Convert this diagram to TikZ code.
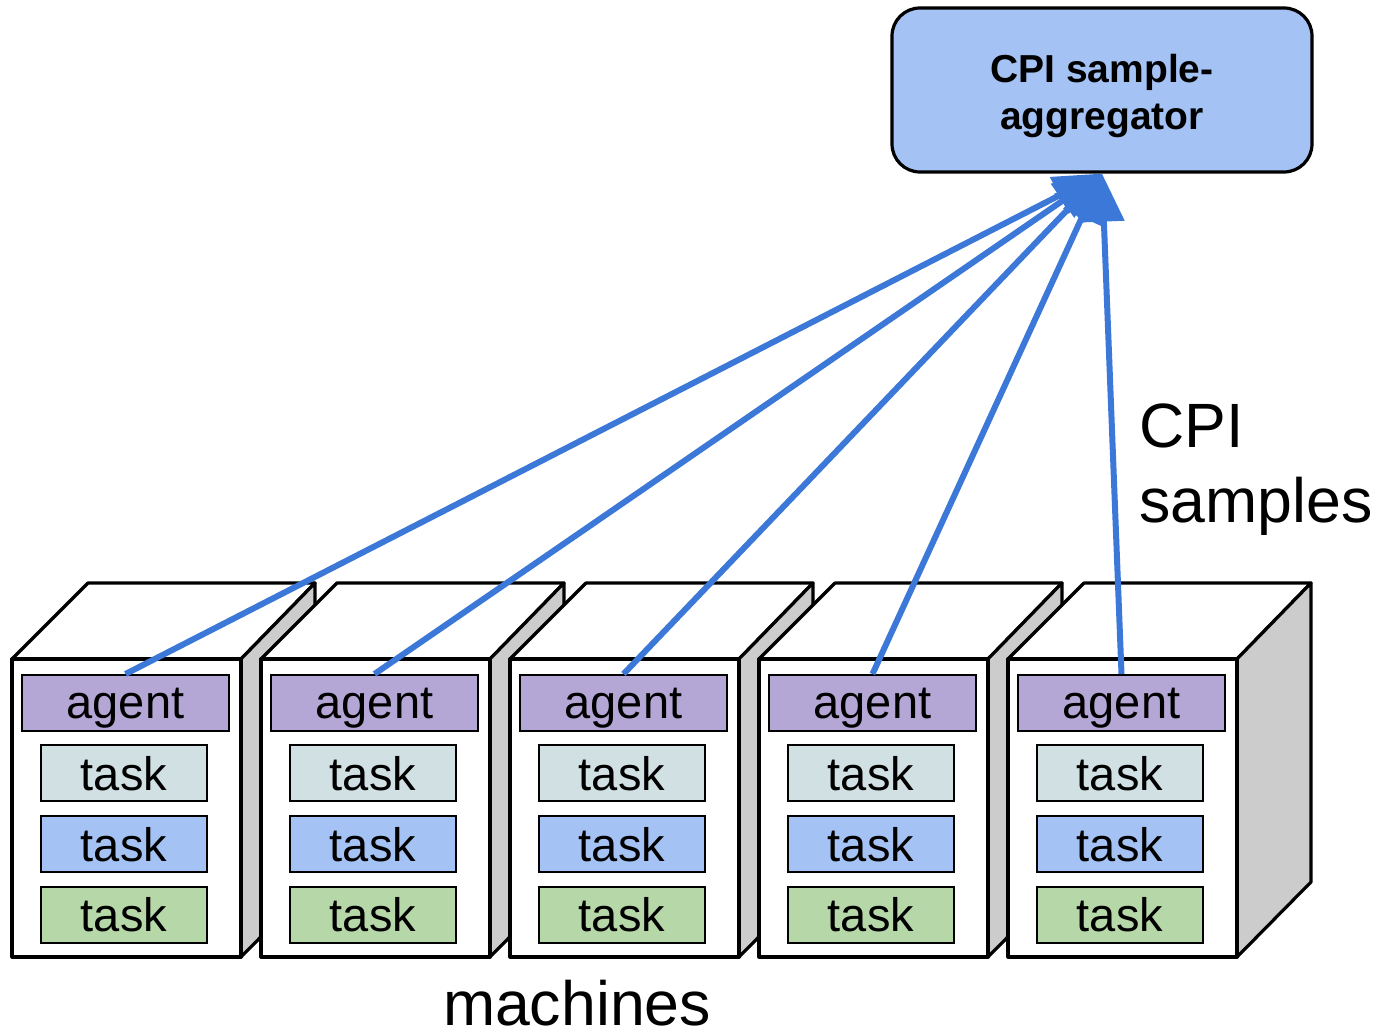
\documentclass[tikz,border=0pt]{standalone}
\usepackage{fontspec}
\setmainfont{Liberation Sans}
\usetikzlibrary{arrows.meta}
\definecolor{agentc}{HTML}{B4A7D6}
\definecolor{taskA}{HTML}{D0E0E3}
\definecolor{taskB}{HTML}{A4C2F4}
\definecolor{taskC}{HTML}{B6D7A8}
\definecolor{aggc}{HTML}{A4C2F4}
\definecolor{sidec}{HTML}{CCCCCC}
\definecolor{flow}{HTML}{3C78D8}
\tikzset{
  outline/.style={draw=black, line width=1.6pt, line join=round},
  agentbox/.style={draw=black, line width=1pt, fill=agentc, minimum width=103.5pt,
    minimum height=28pt, inner sep=0pt, text height=17.2pt, text depth=1.9pt,
    font=\fontsize{23.5}{28}\selectfont},
  taskbox/.style={draw=black, line width=1pt, minimum width=83pt,
    minimum height=28pt, inner sep=0pt, font=\fontsize{23.5}{28}\selectfont},
  aggbox/.style={draw=black, line width=1.6pt, fill=aggc, rounded corners=14pt,
    minimum width=210pt, minimum height=82pt},
  aggtextstyle/.style={font=\fontsize{19.5}{23.5}\selectfont\bfseries, align=center,
    inner sep=0pt},
  samplearrow/.style={draw=flow, line width=3pt, -{Triangle[length=24pt,width=20pt]}},
  biglabel/.style={font=\fontsize{31.3}{37.5}\selectfont, inner sep=0pt}
}
\begin{document}
\begin{tikzpicture}[x=0.5pt,y=-0.5pt]
\useasboundingbox (0,0) rectangle (1383,1036);

% aggregator
\node[aggbox] (agg) at (1102,90) {};
\node[aggtextstyle] (aggtext) at (1102,96) {CPI sample-\\aggregator};

% machines, drawn left to right so each one hides the side of the previous
\foreach \i/\x in {1/12,2/261,3/510,4/759,5/1008} {
  \draw[outline, fill=white] (\x,659) -- (\x+76,583) -- (\x+303,583) -- (\x+229,659) -- cycle;
  \draw[outline, fill=sidec] (\x+229,659) -- (\x+303,583) -- (\x+303,882) -- (\x+229,957) -- cycle;
  \draw[outline, fill=white] (\x,659) rectangle (\x+229,957);
  \node[agentbox] (a\i) at (\x+113.5,703) {agent};
  \node[taskbox, fill=taskA] (t\i a) at (\x+112,773.5) {task};
  \node[taskbox, fill=taskB] (t\i b) at (\x+112,844.5) {task};
  \node[taskbox, fill=taskC] (t\i c) at (\x+112,915) {task};
}

% samples flowing to the aggregator
\foreach \i in {1,...,5} {
  \draw[samplearrow] (a\i.north) -- (agg.south);
}

\node[biglabel] (mlabel) at (577,1003) {machines};
\node[biglabel, anchor=west, align=left] (slabel) at (1139,470) {CPI\\samples};
\end{tikzpicture}
\end{document}
